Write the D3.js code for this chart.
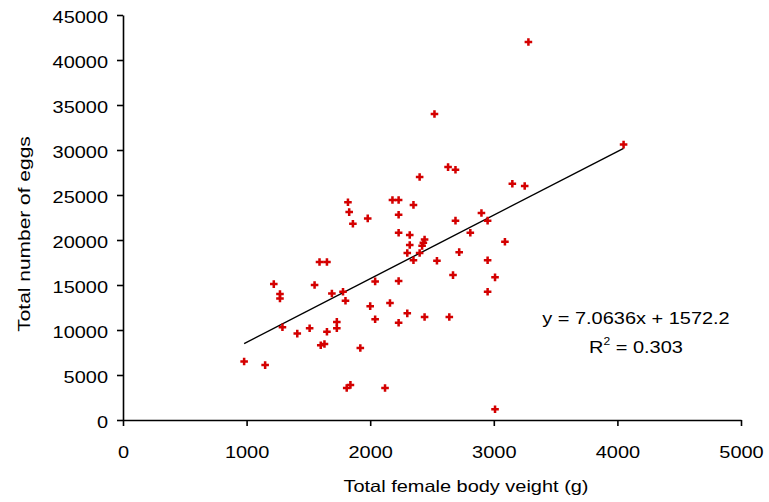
<!DOCTYPE html>
<html>
<head>
<meta charset="utf-8">
<script src="https://cdn.jsdelivr.net/npm/d3@7"></script>
<style>
  html, body { margin: 0; padding: 0; background: #fff; }
  svg { display: block; }
  text { font-family: "Liberation Sans", Arial, sans-serif; fill: #000; }
</style>
</head>
<body>
<svg id="chart" width="769" height="502"></svg>
<script>
// Female body weight (g) and egg count for each fish
const bodyWeight = [
  980, 1150, 1220, 1270, 1270, 1290, 1410, 1510, 1550, 1590,
  1650, 1600, 1630, 1650, 1690, 1730, 1730, 1780, 1800, 1820,
  1830, 1860, 1810, 1840, 1920, 1980, 2000, 2040, 2040, 2120,
  2160, 2180, 2230, 2230, 2230, 2230, 2230, 2300, 2300, 2320,
  2320, 2350, 2350, 2400, 2400, 2420, 2430, 2440, 2440, 2520,
  2540, 2630, 2640, 2670, 2690, 2690, 2720, 2810, 2900, 2950,
  2950, 2950, 3010, 3010, 3090, 3150, 3250, 3280, 4050
];
const eggCount = [
  6500, 6100, 15100, 14000, 13500, 10300, 9600, 10200, 15000, 17550,
  17550, 8300, 8450, 9800, 14050, 10900, 10200, 14250, 13250, 24200,
  23100, 21800, 3550, 3900, 8000, 22400, 12650, 15400, 11200, 3550,
  13000, 24450, 24450, 22800, 20800, 15450, 10800, 11850, 18550, 20550,
  19450, 23900, 17750, 18550, 27000, 19350, 19700, 20050, 11450, 34000,
  17700, 28100, 11450, 16100, 27800, 22150, 18650, 20800, 23000, 22150,
  17750, 14250, 15850, 1200, 19800, 26250, 26000, 42000, 30600
];

// Axis ticks
const xTicks = [0, 1000, 2000, 3000, 4000, 5000];
const yTicks = [0, 5000, 10000, 15000, 20000, 25000, 30000, 35000, 40000, 45000];

// Linear trend line y = a·x + b
const slope = 7.0636;
const intercept = 1572.2;
const rSquared = 0.303;

const points = bodyWeight.map((w, i) => ({ w, e: eggCount[i] }));

const svg = d3.select("#chart");
const FONT = 16.5;     // glyph height
const SX = 1.21;       // horizontal stretch of the lettering

const x = d3.scaleLinear().domain([0, 5000]).range([123, 741]);
const y = d3.scaleLinear().domain([0, 45000]).range([420, 15]);

// X axis
const xAxis = svg.append("g")
  .attr("transform", `translate(0,${y(0)})`)
  .call(d3.axisBottom(x).tickValues(xTicks).tickFormat(d3.format("d")).tickSize(6).tickSizeOuter(0));
xAxis.select(".domain").attr("stroke", "#000").attr("stroke-width", 1.6);
xAxis.selectAll(".tick line").attr("stroke", "#000").attr("stroke-width", 1.6);
xAxis.selectAll(".tick text")
  .attr("y", 38).attr("dy", null)
  .attr("font-size", FONT)
  .attr("transform", `scale(${SX},1)`);

// Y axis
const yAxis = svg.append("g")
  .attr("transform", `translate(${x(0)},0)`)
  .call(d3.axisLeft(y).tickValues(yTicks).tickFormat(d3.format("d")).tickSize(6).tickSizeOuter(0));
yAxis.select(".domain").attr("stroke", "#000").attr("stroke-width", 1.6);
yAxis.selectAll(".tick line").attr("stroke", "#000").attr("stroke-width", 1.6);
yAxis.selectAll(".tick text")
  .attr("x", -15 / SX).attr("dy", null).attr("y", 7)
  .attr("font-size", FONT)
  .attr("transform", `scale(${SX},1)`);

// Axis titles
svg.append("text")
  .attr("transform", `translate(466,492) scale(${SX},1)`)
  .attr("text-anchor", "middle")
  .attr("font-size", FONT)
  .text("Total female body veight (g)");

svg.append("text")
  .attr("transform", `translate(30,234) rotate(-90) scale(1.27,1)`)
  .attr("text-anchor", "middle")
  .attr("font-size", FONT)
  .text("Total number of eggs");

// Trend line across the observed weight range
const [wMin, wMax] = d3.extent(bodyWeight);
svg.append("line")
  .attr("x1", x(wMin)).attr("y1", y(slope * wMin + intercept))
  .attr("x2", x(wMax)).attr("y2", y(slope * wMax + intercept))
  .attr("stroke", "#000").attr("stroke-width", 1.4);

// Data points
svg.append("g").selectAll("path")
  .data(points)
  .join("path")
  .attr("transform", d => `translate(${x(d.w)},${y(d.e)})`)
  .attr("d", d3.symbol(d3.symbolCross, 32))
  .attr("fill", "#d40000");

// Regression equation
const eq = svg.append("g").attr("transform", "translate(636,0)");
eq.append("text")
  .attr("transform", `translate(0,324) scale(${SX},1)`)
  .attr("text-anchor", "middle")
  .attr("font-size", FONT)
  .text(`y = ${slope}x + ${intercept}`);
const r2 = eq.append("text")
  .attr("transform", `translate(0,353) scale(${SX},1)`)
  .attr("text-anchor", "middle")
  .attr("font-size", FONT);
r2.append("tspan").text("R");
r2.append("tspan").attr("font-size", 10).attr("dy", -8).text("2");
r2.append("tspan").attr("dy", 8).text(` = ${rSquared}`);
</script>
</body>
</html>
